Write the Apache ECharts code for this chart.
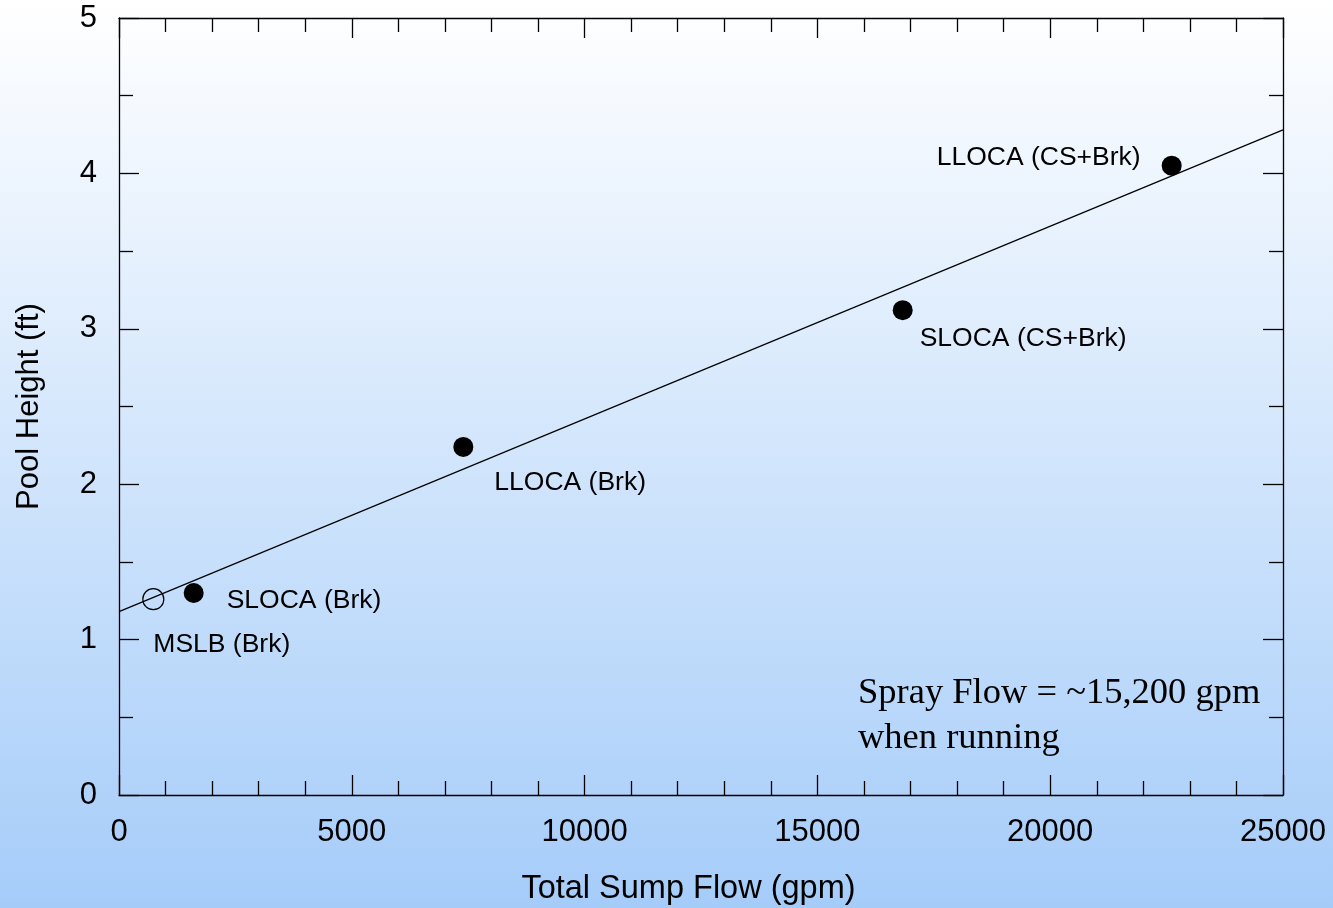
<!DOCTYPE html>
<html>
<head>
<meta charset="utf-8">
<script src="https://cdn.jsdelivr.net/npm/echarts@6/dist/echarts.min.js"></script>
<style>
  html, body { margin: 0; padding: 0; }
  #container { width: 1333px; height: 908px; }
</style>
</head>
<body>
<div id="container"></div>
<script>
// measured points (gpm, ft)
var caseNames = ['MSLB (Brk)', 'SLOCA (Brk)', 'LLOCA (Brk)', 'SLOCA (CS+Brk)', 'LLOCA (CS+Brk)'];
var sumpFlow = [737, 1604, 7395, 16832, 22609];
var poolHeight = [1.26, 1.30, 2.24, 3.12, 4.05];
var openMarker = [true, false, false, false, false];

// fitted line end points
var fitFlow = [0, 25000];
var fitHeight = [1.18, 4.28];

// label placement (pixel offset from marker centre)
var labelOffsets = [[0, 45], [33, 8], [31, 36], [17, 29], [-31, -8]];
var labelAligns = ['left', 'left', 'left', 'left', 'right'];

var dom = document.getElementById('container');
var myChart = echarts.init(dom);

var pointData = sumpFlow.map(function (x, i) {
    return {
        name: caseNames[i],
        value: [x, poolHeight[i]],
        symbolSize: openMarker[i] ? 21 : 20,
        itemStyle: openMarker[i]
            ? { color: 'rgba(0,0,0,0)', borderColor: '#000', borderWidth: 1.2, opacity: 1 }
            : { color: '#000', opacity: 1 },
        label: {
            show: true,
            position: 'inside',
            align: labelAligns[i],
            verticalAlign: 'middle',
            offset: labelOffsets[i],
            formatter: '{b}',
            color: '#000',
            opacity: 1,
            fontFamily: 'Liberation Sans',
            fontSize: 26.5
        }
    };
});

var fitData = fitFlow.map(function (x, i) { return [x, fitHeight[i]]; });

var lineStyle = { color: '#000', width: 1.3 };
function plain(v) { return String(v); }

var option = {
    backgroundColor: new echarts.graphic.LinearGradient(0, 0, 0, 1, [
        { offset: 0, color: '#ffffff' },
        { offset: 1, color: '#a5ccf9' }
    ]),
    animation: false,
    grid: { left: 119, right: 50, top: 18, bottom: 113, containLabel: false, outerBoundsMode: 'none' },
    xAxis: [{
        type: 'value',
        position: 'bottom',
        min: 0,
        max: 25000,
        interval: 5000,
        name: 'Total Sump Flow (gpm)',
        nameLocation: 'middle',
        nameGap: 78,
        nameTextStyle: { color: '#000', fontFamily: 'Liberation Sans', fontSize: 32.5, padding: [0, 25, 0, 0] },
        axisLine: { show: true, onZero: false, lineStyle: lineStyle },
        axisTick: { show: true, inside: true, length: 20, lineStyle: lineStyle },
        minorTick: { show: true, splitNumber: 5, length: 14, lineStyle: lineStyle },
        splitLine: { show: false },
        axisLabel: { color: '#000', fontFamily: 'Liberation Sans', fontSize: 31, margin: 22, formatter: plain }
    }, {
        type: 'value',
        position: 'top',
        min: 0,
        max: 25000,
        interval: 5000,
        axisLine: { show: true, onZero: false, lineStyle: lineStyle },
        axisTick: { show: true, inside: true, length: 20, lineStyle: lineStyle },
        minorTick: { show: true, splitNumber: 5, length: 14, lineStyle: lineStyle },
        splitLine: { show: false },
        axisLabel: { show: false }
    }],
    yAxis: [{
        type: 'value',
        position: 'left',
        min: 0,
        max: 5,
        interval: 1,
        name: 'Pool Height (ft)',
        nameLocation: 'middle',
        nameGap: 74,
        nameTextStyle: { color: '#000', fontFamily: 'Liberation Sans', fontSize: 31 },
        axisLine: { show: true, onZero: false, lineStyle: lineStyle },
        axisTick: { show: true, inside: true, length: 20, lineStyle: lineStyle },
        minorTick: { show: true, splitNumber: 2, length: 14, lineStyle: lineStyle },
        splitLine: { show: false },
        axisLabel: { color: '#000', fontFamily: 'Liberation Sans', fontSize: 31, margin: 22, formatter: plain }
    }, {
        type: 'value',
        position: 'right',
        min: 0,
        max: 5,
        interval: 1,
        axisLine: { show: true, onZero: false, lineStyle: lineStyle },
        axisTick: { show: true, inside: true, length: 20, lineStyle: lineStyle },
        minorTick: { show: true, splitNumber: 2, length: 14, lineStyle: lineStyle },
        splitLine: { show: false },
        axisLabel: { show: false }
    }],
    graphic: [{
        type: 'text',
        left: 858,
        top: 671,
        style: {
            text: 'Spray Flow = ~15,200 gpm\nwhen running',
            fill: '#000',
            font: '36.5px "Liberation Serif"',
            lineHeight: 45
        }
    }],
    series: [{
        type: 'line',
        data: fitData,
        symbol: 'none',
        lineStyle: { color: '#000', width: 1.2 },
        z: 2
    }, {
        type: 'scatter',
        data: pointData,
        z: 3
    }]
};

myChart.setOption(option, true);
</script>
</body>
</html>
